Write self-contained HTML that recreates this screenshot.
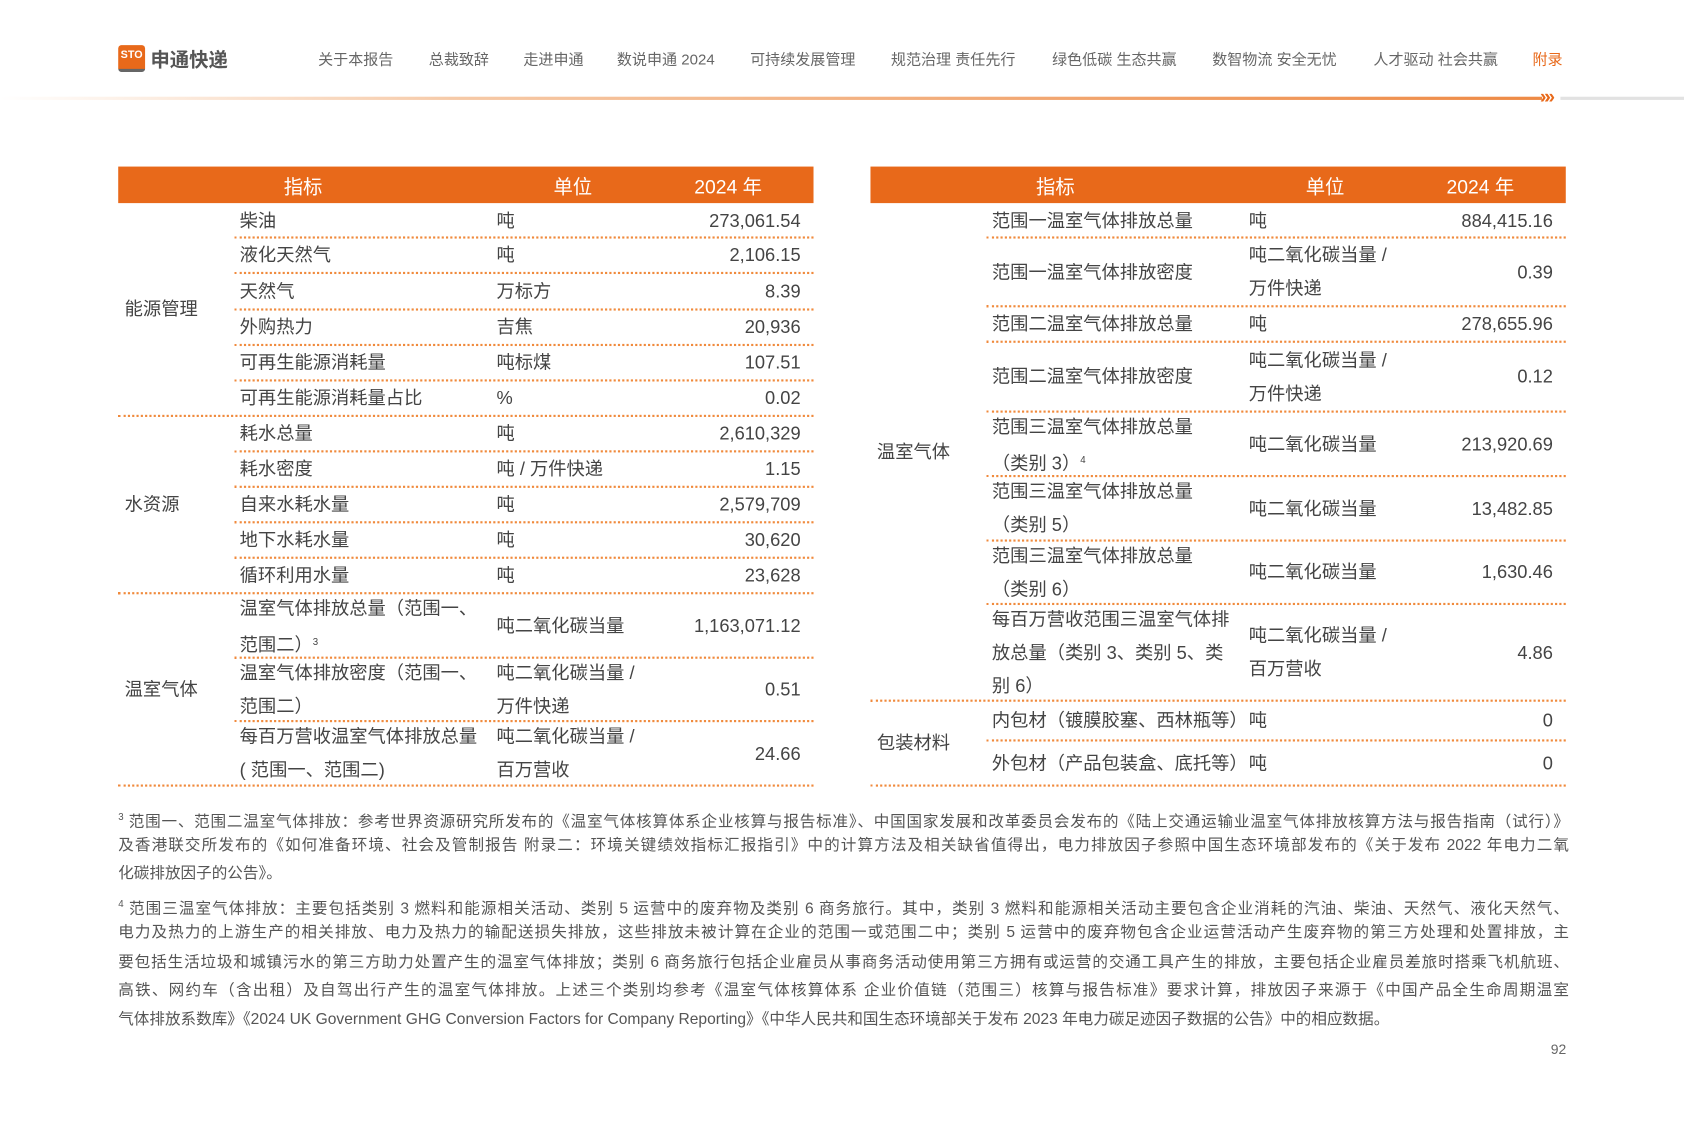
<!DOCTYPE html>
<html><head><meta charset="utf-8">
<style>
html,body{margin:0;padding:0;background:#fff;width:1684px;height:1123px;overflow:hidden}
#page{position:absolute;left:0;top:0;width:1567px;height:1045px;transform:scale(1.07466);transform-origin:0 0;font-family:"Liberation Sans","Noto Sans CJK SC",sans-serif;color:#444}
.a{position:absolute;white-space:nowrap}
.nav{font-size:14px;color:#666;top:45px}
.hdr{position:absolute;top:155px;height:34px;background:#E8691A}
.ht{position:absolute;top:160px;font-size:18px;color:#fff}
.cell{position:absolute;font-size:17px;line-height:31px;color:#444}
.line{position:absolute;height:0;border-top:2px dotted #F08A3C}
.fn{position:absolute;left:110px;width:1350px;font-size:14.5px;color:#555;text-align:justify;text-align-last:justify;white-space:nowrap;line-height:20px}
.fn.l{text-align-last:left}
sup{font-size:9px;vertical-align:6px}
</style></head><body>
<div id="page">
 <div class="a" style="left:110px;top:42px;width:25px;height:25px;background:#E8691A;border-radius:3px;color:#fff;font-size:10px;font-weight:bold;text-align:center;line-height:20px;border-bottom:3px solid #666;box-sizing:border-box">STO</div>
 <div class="a" style="left:140px;top:42px;font-size:18px;font-weight:bold;color:#555">申通快递</div>
 <div class="a nav" style="left:296px">关于本报告</div>
 <div class="a nav" style="left:399px">总裁致辞</div>
 <div class="a nav" style="left:487px">走进申通</div>
 <div class="a nav" style="left:574px">数说申通 2024</div>
 <div class="a nav" style="left:698px">可持续发展管理</div>
 <div class="a nav" style="left:829px">规范治理 责任先行</div>
 <div class="a nav" style="left:979px">绿色低碳 生态共赢</div>
 <div class="a nav" style="left:1128px">数智物流 安全无忧</div>
 <div class="a nav" style="left:1278px">人才驱动 社会共赢</div>
 <div class="a nav" style="left:1426px;color:#E8691A">附录</div>
 <div class="a" style="left:0;top:90px;width:1435px;height:3px;background:linear-gradient(90deg,#fff,#F6C9A6 30%,#EE8A45)"></div>
 <div class="a" style="left:1433px;top:80px;font-size:18px;font-weight:bold;color:#E8691A;letter-spacing:-6px">»»</div>
 <div class="a" style="left:1452px;top:90px;width:115px;height:3px;background:#e2e2e2"></div>

 <div class="hdr" style="left:110px;width:647px"></div>
 <div class="ht" style="left:264px">指标</div>
 <div class="ht" style="left:515px">单位</div>
 <div class="ht" style="left:646px">2024 年</div>
 <div class="hdr" style="left:810px;width:647px"></div>
 <div class="ht" style="left:964px">指标</div>
 <div class="ht" style="left:1215px">单位</div>
 <div class="ht" style="left:1346px">2024 年</div>

 <div id="tables"></div>

 <div class="fn" style="top:750px"><sup>3</sup> 范围一、范围二温室气体排放：参考世界资源研究所发布的《温室气体核算体系企业核算与报告标准》、中国国家发展和改革委员会发布的《陆上交通运输业温室气体排放核算方法与报告指南（试行）》</div>
 <div class="fn" style="top:777px">及香港联交所发布的《如何准备环境、社会及管制报告 附录二：环境关键绩效指标汇报指引》中的计算方法及相关缺省值得出，电力排放因子参照中国生态环境部发布的《关于发布 2022 年电力二氧</div>
 <div class="fn l" style="top:803px">化碳排放因子的公告》。</div>
 <div class="fn" style="top:831px"><sup>4</sup> 范围三温室气体排放：主要包括类别 3 燃料和能源相关活动、类别 5 运营中的废弃物及类别 6 商务旅行。其中，类别 3 燃料和能源相关活动主要包含企业消耗的汽油、柴油、天然气、液化天然气、</div>
 <div class="fn" style="top:858px">电力及热力的上游生产的相关排放、电力及热力的输配送损失排放，这些排放未被计算在企业的范围一或范围二中；类别 5 运营中的废弃物包含企业运营活动产生废弃物的第三方处理和处置排放，主</div>
 <div class="fn" style="top:886px">要包括生活垃圾和城镇污水的第三方助力处置产生的温室气体排放；类别 6 商务旅行包括企业雇员从事商务活动使用第三方拥有或运营的交通工具产生的排放，主要包括企业雇员差旅时搭乘飞机航班、</div>
 <div class="fn" style="top:912px">高铁、网约车（含出租）及自驾出行产生的温室气体排放。上述三个类别均参考《温室气体核算体系 企业价值链（范围三）核算与报告标准》要求计算，排放因子来源于《中国产品全生命周期温室</div>
 <div class="fn l" style="top:939px">气体排放系数库》《2024 UK Government GHG Conversion Factors for Company Reporting》《中华人民共和国生态环境部关于发布 2023 年电力碳足迹因子数据的公告》中的相应数据。</div>
 <div class="a" style="left:1443px;top:969px;font-size:13px;color:#666">92</div>
</div>
<script>
var leftRows=[
[189,221,"柴油","吨","273,061.54",0],[221,254,"液化天然气","吨","2,106.15",0],[254,288,"天然气","万标方","8.39",0],
[288,321,"外购热力","吉焦","20,936",0],[321,354,"可再生能源消耗量","吨标煤","107.51",0],[354,387,"可再生能源消耗量占比","%","0.02",1],
[387,420,"耗水总量","吨","2,610,329",0],[420,453,"耗水密度","吨 / 万件快递","1.15",0],[453,486,"自来水耗水量","吨","2,579,709",0],
[486,519,"地下水耗水量","吨","30,620",0],[519,552,"循环利用水量","吨","23,628",1],
[552,612,"温室气体排放总量（范围一、<br>范围二）<sup>3</sup>","吨二氧化碳当量","1,163,071.12",0],
[612,671,"温室气体排放密度（范围一、<br>范围二）","吨二氧化碳当量 /<br>万件快递","0.51",0],
[671,731,"每百万营收温室气体排放总量<br>( 范围一、范围二)","吨二氧化碳当量 /<br>百万营收","24.66",1]];
var leftCats=[["能源管理",189,387],["水资源",387,552],["温室气体",552,731]];
var rightRows=[
[189,221,"范围一温室气体排放总量","吨","884,415.16",0],[221,285,"范围一温室气体排放密度","吨二氧化碳当量 /<br>万件快递","0.39",0],
[285,318,"范围二温室气体排放总量","吨","278,655.96",0],[318,383,"范围二温室气体排放密度","吨二氧化碳当量 /<br>万件快递","0.12",0],
[383,443,"范围三温室气体排放总量<br>（类别 3）<sup>4</sup>","吨二氧化碳当量","213,920.69",0],
[443,503,"范围三温室气体排放总量<br>（类别 5）","吨二氧化碳当量","13,482.85",0],
[503,562,"范围三温室气体排放总量<br>（类别 6）","吨二氧化碳当量","1,630.46",0],
[562,652,"每百万营收范围三温室气体排<br>放总量（类别 3、类别 5、类<br>别 6）","吨二氧化碳当量 /<br>百万营收","4.86",1],
[652,689,"内包材（镀膜胶塞、西林瓶等）","吨","0",0],[689,731,"外包材（产品包装盒、底托等）","吨","0",1]];
var rightCats=[["温室气体",189,652],["包装材料",652,731]];
var host=document.getElementById('tables');
function mk(cls,html,style){var d=document.createElement('div');d.className=cls;d.innerHTML=html;d.style.cssText=style;host.appendChild(d);return d;}
function build(rows,cats,x0,ind,unit,valR,lineL,prefix){
 rows.forEach(function(r,i){
  var h=r[1]-r[0];
  var n1=(r[2].match(/<br>/g)||[]).length+1,n2=(r[3].match(/<br>/g)||[]).length+1;
  var c=mk('cell',r[2],'left:'+ind+'px;top:'+(r[0]+(h-n1*31)/2)+'px');
  
  
  var u=mk('cell',r[3],'left:'+unit+'px;top:'+(r[0]+(h-n2*31)/2)+'px');
  
  
  var v=mk('cell',r[4],'right:'+(1567-valR)+'px;top:'+(r[0]+(h-31)/2)+'px;text-align:right');
  
  
  var l=r[5]?x0:lineL;
  var ln=mk('line','','left:'+l+'px;width:'+(x0+647-l)+'px;top:'+(r[1]-1)+'px');
  
  
 });
 cats.forEach(function(c){
  var e=mk('cell',c[0],'left:'+(x0+6)+'px;top:'+((c[1]+c[2])/2-16)+'px');
  
  
 });
}
build(leftRows,leftCats,110,223,462,745,218,'left-table');
build(rightRows,rightCats,810,923,1162,1445,918,'right-table');
</script>
</body></html>
